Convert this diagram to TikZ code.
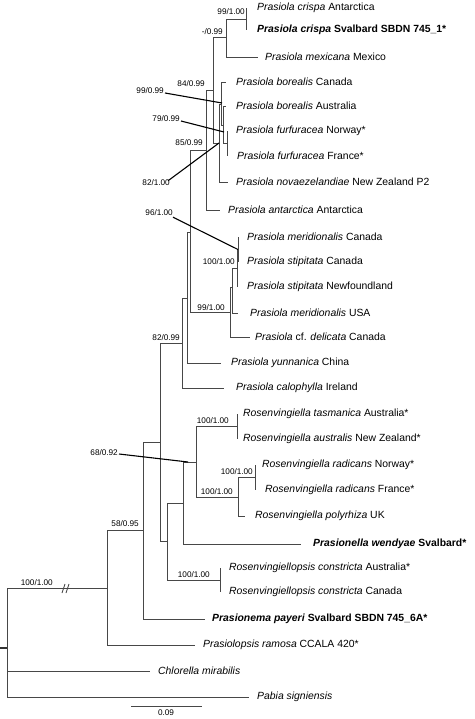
\documentclass[tikz,border=0pt]{standalone}
\usepackage{fontspec}
\setmainfont{Liberation Sans}
\begin{document}
\begin{tikzpicture}[x=1pt,y=-1pt,
  br/.style={draw=black!72, line width=0.9pt},
  ldr/.style={draw=black, line width=1.1pt},
  leaf/.style={anchor=west, inner sep=0pt, font=\fontsize{10.4}{12}\selectfont},
  bslab/.style={anchor=east, inner sep=0pt, font=\fontsize{8.2}{10}\selectfont},
  freelab/.style={anchor=center, inner sep=0pt, font=\fontsize{8.2}{10}\selectfont}]
\useasboundingbox (0,0) rectangle (474,719);

% ---------- internal nodes ----------
\coordinate (R0) at (0,648);
\coordinate (R) at (7,648);
\coordinate (A) at (107,588);
\coordinate (B) at (143,530.5);
\coordinate (C) at (160,442);
\coordinate (D1) at (182,343);
\coordinate (D2) at (187,298);
\coordinate (D3) at (190,232);
\coordinate (D4) at (206,150);
\coordinate (D7) at (213,90);
\coordinate (D8) at (226,37.5);
\coordinate (CR) at (246,19);
\coordinate (D9) at (219,143);
\coordinate (D10) at (221,104);
\coordinate (D11) at (223,125);
\coordinate (D12) at (227,143.5);
\coordinate (D5) at (230,312.5);
\coordinate (X) at (232,287.5);
\coordinate (T) at (237,268.5);
\coordinate (S) at (238,249.5);
\coordinate (G) at (167,541.5);
\coordinate (RP) at (220,580);
\coordinate (E) at (183,503);
\coordinate (F) at (196,462);
\coordinate (TA) at (237,426.5);
\coordinate (RPo) at (238,497);
\coordinate (RR) at (255,477.5);

% ---------- leaf tips ----------
\coordinate (tCA) at (246,8);
\coordinate (tCS) at (246,30);
\coordinate (tMX) at (258,57);
\coordinate (tBC) at (226,82);
\coordinate (tBA) at (226,106);
\coordinate (tFN) at (227,131);
\coordinate (tFF) at (227,156);
\coordinate (tNZ) at (228,182);
\coordinate (tAN) at (220,210);
\coordinate (tMC) at (238,237);
\coordinate (tSC) at (238,262);
\coordinate (tSN) at (237,287);
\coordinate (tMU) at (238,313);
\coordinate (tDE) at (250,337);
\coordinate (tYU) at (221,363);
\coordinate (tCP) at (224,388);
\coordinate (tTA) at (237,414);
\coordinate (tAU) at (237,439);
\coordinate (tRN) at (255,465);
\coordinate (tRF) at (255,490);
\coordinate (tPO) at (245,516);
\coordinate (tWE) at (301,544);
\coordinate (tCC1) at (220,568);
\coordinate (tCC2) at (220,592);
\coordinate (tPP) at (205,619);
\coordinate (tRA) at (195,645);
\coordinate (tCH) at (150,671);
\coordinate (tPA) at (249,697);

% ---------- branches ----------
\draw[draw=black!80, line width=1.6pt] (R0) -- (R);
\draw[br] (R) |- (A);
\draw[br] (R) |- (tCH);
\draw[br] (R) |- (tPA);
\draw[br] (A) |- (B);
\draw[br] (A) |- (tRA);
\draw[br] (B) |- (C);
\draw[br] (B) |- (tPP);
\draw[br] (C) |- (D1);
\draw[br] (C) |- (G);
\draw[br] (D1) |- (D2);
\draw[br] (D1) |- (tCP);
\draw[br] (D2) |- (D3);
\draw[br] (D2) |- (tYU);
\draw[br] (D3) |- (D4);
\draw[br] (D3) |- (D5);
\draw[br] (D4) |- (D7);
\draw[br] (D4) |- (tAN);
\draw[br] (D7) |- (D8);
\draw[br] (D7) |- (D9);
\draw[br] (D8) |- (CR);
\draw[br] (D8) |- (tMX);
\draw[br] (CR) |- (tCA);
\draw[br] (CR) |- (tCS);
\draw[br] (D9) |- (D10);
\draw[br] (D9) |- (tNZ);
\draw[br] (D10) |- (tBC);
\draw[br] (D10) |- (D11);
\draw[br] (D11) |- (tBA);
\draw[br] (D11) |- (D12);
\draw[br] (D12) |- (tFN);
\draw[br] (D12) |- (tFF);
\draw[br] (D5) |- (X);
\draw[br] (D5) |- (tDE);
\draw[br] (X) |- (T);
\draw[br] (X) |- (tMU);
\draw[br] (T) |- (S);
\draw[br] (T) |- (tSN);
\draw[br] (S) |- (tMC);
\draw[br] (S) |- (tSC);
\draw[br] (G) |- (E);
\draw[br] (G) |- (RP);
\draw[br] (RP) |- (tCC1);
\draw[br] (RP) |- (tCC2);
\draw[br] (E) |- (F);
\draw[br] (E) |- (tWE);
\draw[br] (F) |- (TA);
\draw[br] (F) |- (RPo);
\draw[br] (TA) |- (tTA);
\draw[br] (TA) |- (tAU);
\draw[br] (RPo) |- (RR);
\draw[br] (RPo) |- (tPO);
\draw[br] (RR) |- (tRN);
\draw[br] (RR) |- (tRF);

% break mark on the long branch
\draw[br, line width=0.8pt] (62,593) -- (65,584) (66,593) -- (69,584);

% ---------- leaf names ----------
\node[leaf] (nCA) at (257,8) {\textit{Prasiola crispa} Antarctica};
\node[leaf] (nCS) at (257,30) {\textbf{\textit{Prasiola crispa} Svalbard SBDN 745\_1*}};
\node[leaf] (nMX) at (265,57) {\textit{Prasiola mexicana} Mexico};
\node[leaf] (nBC) at (236,82) {\textit{Prasiola borealis} Canada};
\node[leaf] (nBA) at (236,106) {\textit{Prasiola borealis} Australia};
\node[leaf] (nFN) at (236,131) {\textit{Prasiola furfuracea} Norway*};
\node[leaf] (nFF) at (237,156) {\textit{Prasiola furfuracea} France*};
\node[leaf] (nNZ) at (236,182) {\textit{Prasiola novaezelandiae} New Zealand P2};
\node[leaf] (nAN) at (228,210) {\textit{Prasiola antarctica} Antarctica};
\node[leaf] (nMC) at (247,237) {\textit{Prasiola meridionalis} Canada};
\node[leaf] (nSC) at (247,262) {\textit{Prasiola stipitata} Canada};
\node[leaf] (nSN) at (247,287) {\textit{Prasiola stipitata} Newfoundland};
\node[leaf] (nMU) at (250,313) {\textit{Prasiola meridionalis} USA};
\node[leaf] (nDE) at (255,337) {\textit{Prasiola} cf. \textit{delicata} Canada};
\node[leaf] (nYU) at (231,363) {\textit{Prasiola yunnanica} China};
\node[leaf] (nCP) at (236,388) {\textit{Prasiola calophylla} Ireland};
\node[leaf] (nTA) at (243,414) {\textit{Rosenvingiella tasmanica} Australia*};
\node[leaf] (nAU) at (243,439) {\textit{Rosenvingiella australis} New Zealand*};
\node[leaf] (nRN) at (262,465) {\textit{Rosenvingiella radicans} Norway*};
\node[leaf] (nRF) at (265,490) {\textit{Rosenvingiella radicans} France*};
\node[leaf] (nPO) at (255,516) {\textit{Rosenvingiella polyrhiza} UK};
\node[leaf] (nWE) at (313,544) {\textbf{\textit{Prasionella wendyae} Svalbard*}};
\node[leaf] (nCC1) at (229,568) {\textit{Rosenvingiellopsis constricta} Australia*};
\node[leaf] (nCC2) at (229,592) {\textit{Rosenvingiellopsis constricta} Canada};
\node[leaf] (nPP) at (212,619) {\textbf{\textit{Prasionema payeri} Svalbard SBDN 745\_6A*}};
\node[leaf] (nRA) at (203,645) {\textit{Prasiolopsis ramosa} CCALA 420*};
\node[leaf] (nCH) at (158,671) {\textit{Chlorella mirabilis}};
\node[leaf] (nPA) at (257,697) {\textit{Pabia signiensis}};

% ---------- support values on branches ----------
\node[bslab] (s1) at (245,12) {99/1.00};
\node[bslab] (s2) at (223,32) {-/0.99};
\node[bslab] (s3) at (205,84) {84/0.99};
\node[bslab] (s4) at (203,143) {85/0.99};
\node[bslab] (s5) at (235,262) {100/1.00};
\node[bslab] (s6) at (225,308) {99/1.00};
\node[bslab] (s7) at (180,338) {82/0.99};
\node[bslab] (s8) at (229,421) {100/1.00};
\node[bslab] (s9) at (253,472) {100/1.00};
\node[bslab] (s10) at (233,492) {100/1.00};
\node[bslab] (s11) at (139,524) {58/0.95};
\node[bslab] (s12) at (210,575) {100/1.00};
\node[bslab] (s13) at (53,583) {100/1.00};

% ---------- support values with leader lines ----------
\node[bslab] (l1) at (164,91) {99/0.99};
\node[bslab] (l2) at (180,119) {79/0.99};
\node[bslab] (l3) at (170,183) {82/1.00};
\node[bslab] (l4) at (173,213) {96/1.00};
\node[bslab] (l5) at (118,453) {68/0.92};
\coordinate (k1) at (222,103);
\coordinate (k2) at (224,132);
\coordinate (k5) at (188,462);
\draw[ldr] (l1.east) ++(1,2) -- (k1);
\draw[ldr] (l2.east) ++(1,2) -- (k2);
\draw[ldr] (l3.north east) ++(-2,1) -- (D9);
\draw[ldr] (l4.south east) ++(0,1) -- (S);
\draw[ldr] (l5.east) ++(1,1) -- (k5);

% ---------- scale bar ----------
\coordinate (sb1) at (131,706);
\coordinate (sb2) at (202,706);
\draw[br] (sb1) -- (sb2);
\node[freelab, anchor=north] (sbl) at (166,710) {0.09};
\end{tikzpicture}
\end{document}
